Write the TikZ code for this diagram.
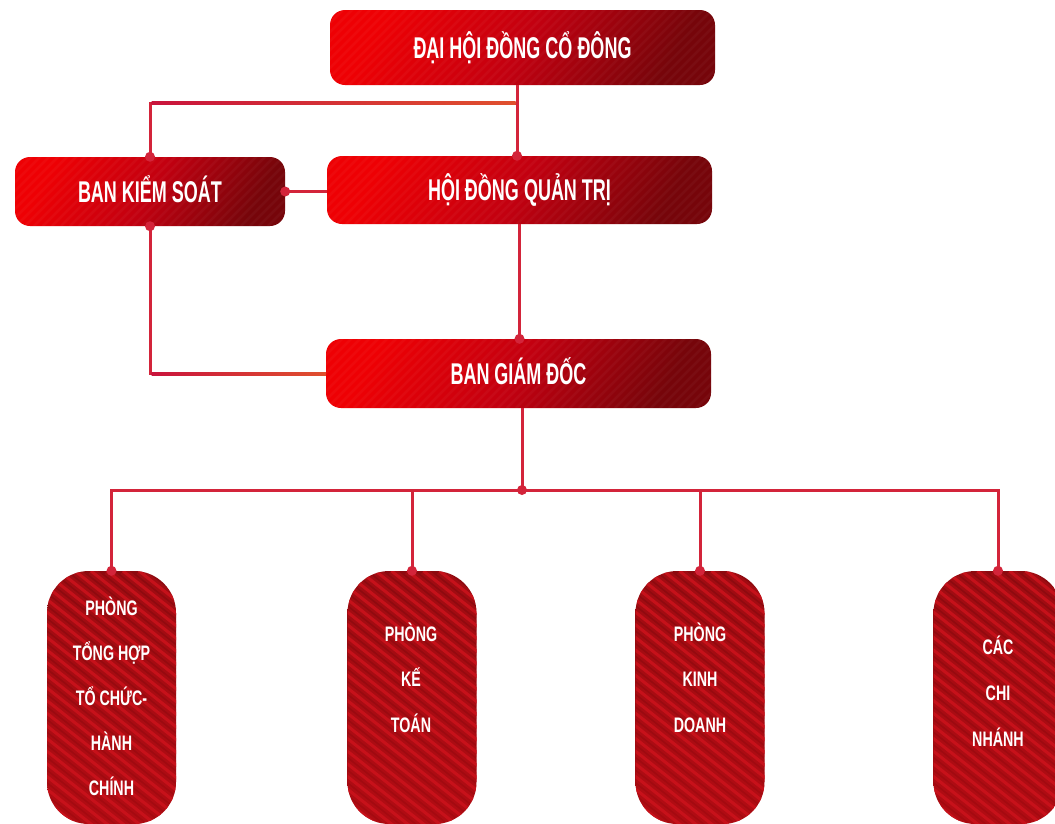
\documentclass[tikz,border=0pt]{standalone}
\usepackage{fontspec}
\newfontfamily\condA[FakeStretch=0.6]{Liberation Sans}
\newfontfamily\condB[FakeStretch=0.68]{Liberation Sans}
\usetikzlibrary{calc}
\definecolor{boxA}{HTML}{EE0004}
\definecolor{boxM}{HTML}{C20010}
\definecolor{boxB}{HTML}{76050A}
\definecolor{conncol}{HTML}{D3243A}
\definecolor{connL}{HTML}{C9143C}
\definecolor{connR}{HTML}{E0502E}
\definecolor{pillTop}{HTML}{8C0A0F}
\definecolor{pillBot}{HTML}{A60A10}
\definecolor{pillstripe}{HTML}{CC121C}
\begin{document}
\begin{tikzpicture}[x=1pt,y=-1pt,
  topbox/.style={rounded corners=15pt, minimum width=385pt, minimum height=69pt,
    inner sep=0pt, left color=boxA, right color=boxB, middle color=boxM, shading angle=60,
    text=white, font=\condA\bfseries\fontsize{30}{30}\selectfont,
    text height=21.5pt, text depth=0pt,
    path picture={
      \foreach \s in {-80,-71,...,400}
        \draw[white, opacity=0.035, line width=2.5pt]
          ([xshift=\s pt]path picture bounding box.south west) -- ++(90,-90);
    }},
  pill/.style={rounded corners=42pt, minimum width=129pt, minimum height=253pt,
    inner sep=0pt, top color=pillTop, bottom color=pillBot,
    path picture={
      \foreach \s in {-340,-324,...,140}{
        \draw[pillstripe, opacity=0.3, line width=8pt]
          ([xshift=\s pt]path picture bounding box.north west) -- ++(420,332);
        \draw[pillstripe, opacity=0.85, line width=3pt]
          ([xshift=\s pt]path picture bounding box.north west) -- ++(420,332);
      }
    }},
  ptxt/.style={text=white, font=\condB\bfseries\fontsize{21}{21}\selectfont,
    inner sep=0pt, anchor=base},
  conn/.style={draw=conncol, line width=3pt},
  dot/.style={fill=conncol}
]
\fill[white] (0,0) rectangle (1055,823);
\useasboundingbox (0,0) rectangle (1055,823);
\clip (0,0) rectangle (1055,823);

% boxes
\node[topbox, minimum height=75pt] (dh) at (522.5,47.5) {ĐẠI HỘI ĐỒNG CỔ ĐÔNG};
\node[topbox, minimum height=68pt] (hd) at (519.5,190) {HỘI ĐỒNG QUẢN TRỊ};
\node[topbox, minimum width=270pt] (bks) at (150,191.5) {BAN KIỂM SOÁT};
\node[topbox] (bgd) at (518.5,373.5) {BAN GIÁM ĐỐC};

% pills
\node[pill] (p1) at (111.5,697.5) {};
\node[pill] (p2) at (412,697.5) {};
\node[pill] (p3) at (700,697.5) {};
\node[pill] (p4) at (998,697.5) {};

\foreach [count=\k] \t in {PHÒNG, TỔNG HỢP, TỔ CHỨC-, HÀNH, CHÍNH}
  \node[ptxt] (p1t\k) at (111.5,{615+45*(\k-1)}) {\t};
\foreach [count=\k] \t in {PHÒNG, KẾ, TOÁN}
  \node[ptxt] (p2t\k) at (411,{641+45.5*(\k-1)}) {\t};
\foreach [count=\k] \t in {PHÒNG, KINH, DOANH}
  \node[ptxt] (p3t\k) at (700,{641+45.5*(\k-1)}) {\t};
\foreach [count=\k] \t in {CÁC, CHI, NHÁNH}
  \node[ptxt] (p4t\k) at (998,{654+46*(\k-1)}) {\t};

% connectors
\coordinate (jt) at (517,103);
\coordinate (bus) at (522,490);
\draw[conn] (jt |- dh.south) -- (jt |- hd.north);
\draw[conn] (jt) -| (bks.north);
\draw[conn] (bks.east) -- (bks.east -| hd.west);
\draw[conn] (bks.south) |- (bgd.west);
\draw[conn] (hd.south) -- (hd.south |- bgd.north);
\draw[conn] (bus |- bgd.south) -- (bus);
\foreach \p in {p1,p2,p3,p4}
  \draw[conn] (bus) -| (\p.north);
% colour fades along the two long horizontal runs
\shade[left color=connL, right color=connR]
  ($(bks.north |- jt)+(1.5,-1.5)$) rectangle ($(jt)+(-1.5,1.5)$);
\shade[left color=connL, right color=connR]
  ($(bks.south |- bgd.west)+(1.5,-1.5)$) rectangle ($(bgd.west)+(0,1.5)$);

% dots
\fill[dot] (jt |- hd.north) circle (5pt);
\fill[dot] (bks.north) circle (5pt);
\fill[dot] (bks.east) circle (5pt);
\fill[dot] (bks.south) circle (5pt);
\fill[dot] (hd.south |- bgd.north) circle (5pt);
\fill[dot] (bus) circle (5pt);
\foreach \p in {p1,p2,p3,p4}
  \fill[dot] (\p.north) circle (5pt);
\end{tikzpicture}
\end{document}
